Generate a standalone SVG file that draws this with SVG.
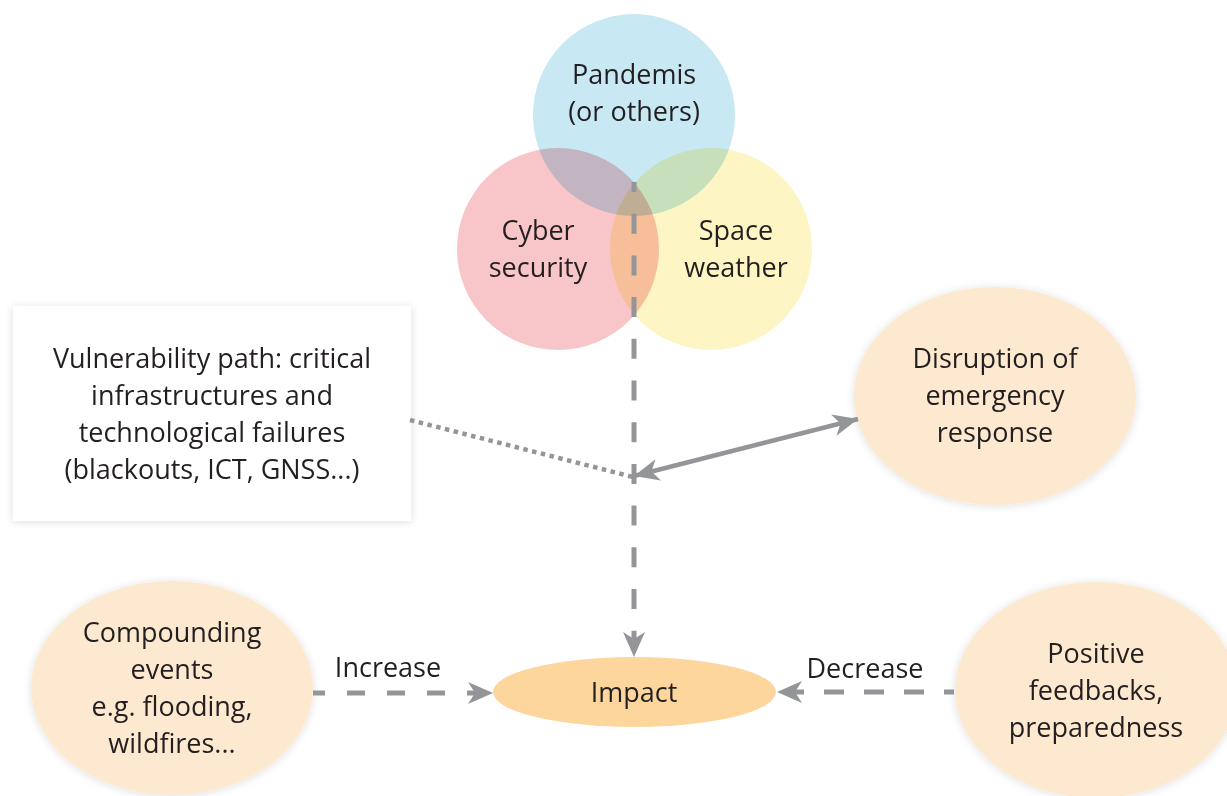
<svg xmlns="http://www.w3.org/2000/svg" width="1227" height="796" viewBox="0 0 1227 796">
<style>
text{font-family:"Open Sans","Liberation Sans",sans-serif;font-size:27px;fill:#231f20;text-anchor:middle}
.soft{fill:#fde9cf}
.conn{fill:none;stroke:#939598}
.dash{stroke-width:5}
.venn{mix-blend-mode:multiply}
</style>
<defs>
<filter id="sh" x="-20%" y="-20%" width="140%" height="140%">
<feDropShadow dx="0" dy="1" stdDeviation="4" flood-color="#000" flood-opacity="0.13"/>
</filter>
<marker id="ah" markerUnits="userSpaceOnUse" markerWidth="26" markerHeight="24" viewBox="0 0 26 24" refX="25" refY="12" orient="auto-start-reverse">
<path d="M0,1 L25,12 L0,23 L7,12 Z" fill="#939598"/>
</marker>
</defs>
<rect width="1227" height="796" fill="#fff"/>

<g id="venn">
<g id="pandemis">
<circle class="venn" cx="634" cy="115" r="101" fill="#c8e8f4"/>
</g>
<g id="cyber">
<circle class="venn" cx="558" cy="249" r="101" fill="#f8c6c9"/>
</g>
<g id="space">
<circle class="venn" cx="711" cy="249" r="101" fill="#fef5c4"/>
</g>
<text x="634" y="84">Pandemis</text>
<text x="634" y="121">(or others)</text>
<text x="538" y="240">Cyber</text>
<text x="538" y="277">security</text>
<text x="736" y="240">Space</text>
<text x="736" y="277">weather</text>
</g>

<g id="vulnerability">
<rect x="13" y="306" width="398" height="215" fill="#fff" filter="url(#sh)"/>
<text x="212" y="368">Vulnerability path: critical</text>
<text x="212" y="405">infrastructures and</text>
<text x="212" y="442">technological failures</text>
<text x="212" y="479">(blackouts, ICT, GNSS...)</text>
</g>

<g id="disruption">
<ellipse class="soft" cx="995" cy="396" rx="141" ry="109" filter="url(#sh)"/>
<text x="995" y="368">Disruption of</text>
<text x="995" y="405">emergency</text>
<text x="995" y="442">response</text>
</g>

<g id="compounding">
<ellipse class="soft" cx="172" cy="688" rx="141" ry="107" filter="url(#sh)"/>
<text x="172" y="642">Compounding</text>
<text x="172" y="679">events</text>
<text x="172" y="716">e.g. flooding,</text>
<text x="172" y="753">wildfires...</text>
</g>

<g id="positive">
<ellipse class="soft" cx="1096" cy="690" rx="141" ry="108" filter="url(#sh)"/>
<text x="1096" y="663">Positive</text>
<text x="1096" y="700">feedbacks,</text>
<text x="1096" y="737">preparedness</text>
</g>

<g id="impact">
<ellipse cx="634.5" cy="692" rx="141.5" ry="35" fill="#fdd69e"/>
<text x="634" y="702">Impact</text>
</g>

<g id="connectors">
<line class="conn dash" x1="634" y1="182" x2="634" y2="657" stroke-dasharray="20 21.7" stroke-dashoffset="10" marker-end="url(#ah)"/>
<line class="conn" x1="410" y1="420" x2="633" y2="477" stroke="#9a9c9f" stroke-width="4.5" stroke-dasharray="4.5 4.5"/>
<line class="conn" x1="634" y1="476" x2="858" y2="419" stroke-width="4.5" marker-start="url(#ah)" marker-end="url(#ah)"/>
<line class="conn dash" x1="313" y1="693" x2="493" y2="693" stroke-dasharray="18 22" stroke-dashoffset="6" marker-end="url(#ah)"/>
<line class="conn dash" x1="954" y1="692" x2="777" y2="692" stroke-dasharray="20 20" stroke-dashoffset="10" marker-end="url(#ah)"/>
<text x="388" y="677">Increase</text>
<text x="865" y="678">Decrease</text>
</g>
</svg>
